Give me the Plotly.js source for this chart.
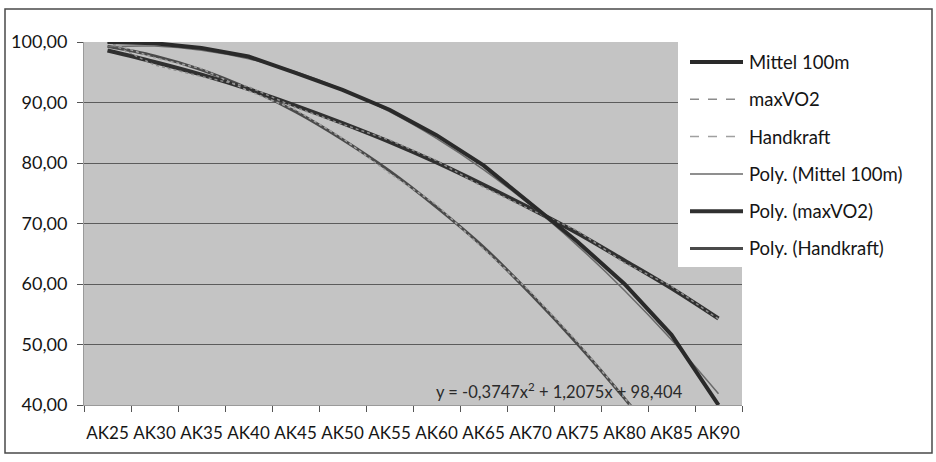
<!DOCTYPE html>
<html>
<head>
<meta charset="utf-8">
<script src="https://cdn.plot.ly/plotly-3.0.1.min.js"></script>
<style>
  html, body { margin: 0; padding: 0; background: #ffffff; }
  #chart { width: 936px; height: 462px; }
</style>
</head>
<body>
<div id="chart"></div>
<script>
// Age classes on the category axis
const ageClasses = ['AK25','AK30','AK35','AK40','AK45','AK50','AK55','AK60','AK65','AK70','AK75','AK80','AK85','AK90'];

// Measured performance, % of the AK25 level
const mittel100m = [100.0, 99.8, 99.0, 97.6, 94.9, 92.1, 88.8, 84.6, 79.6, 73.2, 67.0, 60.0, 51.6, 40.0];
const maxVO2     = [100.0, 96.2, 94.3, 92.6, 89.2, 86.4, 83.8, 80.4, 76.0, 72.3, 68.8, 63.5, 59.6, 54.2];
const handkraft  = [100.0, 97.4, 95.6, 91.9, 88.8, 84.1, 78.3, 73.1, 65.8, 58.7, 50.4, 41.2, 31.0, 21.0];

// Polynomial trend lines (2nd order)
const polyMittel100m = [99.24, 99.32, 98.65, 97.24, 95.07, 92.16, 88.50, 84.08, 78.92, 73.01, 66.35, 58.94, 50.78, 41.86];
const polyMaxVO2     = [98.6, 96.7, 94.6, 92.2, 89.5, 86.6, 83.5, 80.1, 76.4, 72.5, 68.4, 63.9, 59.3, 54.3];
const polyHandkraft  = [99.3, 97.7, 95.4, 92.3, 88.5, 83.9, 78.7, 72.7, 66.1, 58.4, 50.1, 41.1, 31.4, 20.9];

// Legend texts and trend equation label
const legendLabels = ['Mittel 100m', 'maxVO2', 'Handkraft', 'Poly. (Mittel 100m)', 'Poly. (maxVO2)', 'Poly. (Handkraft)'];
const equationLabel = 'y = -0,3747x<sup>2</sup> + 1,2075x + 98,404';

// Plot area geometry in pixels
const W = 936, H = 462;
const PL = 84, PR = 742, PT = 42, PB = 405;
const fx = p => (p - PL) / (PR - PL);
const fy = p => (PB - p) / (PB - PT);

// Line styles: data series first, then the trend lines
const styles = [
  { color: '#2a2a2a', width: 4,   dash: 'solid', shape: 'linear' },
  { color: '#8c8c8c', width: 1.5, dash: 'dot',   shape: 'linear' },
  { color: '#a0a0a0', width: 1.5, dash: 'dot',   shape: 'linear' },
  { color: '#6a6a6a', width: 1.5, dash: 'solid', shape: 'spline' },
  { color: '#303030', width: 4,   dash: 'solid', shape: 'spline' },
  { color: '#4a4a4a', width: 3,   dash: 'solid', shape: 'spline' }
];
const seriesValues = [mittel100m, maxVO2, handkraft, polyMittel100m, polyMaxVO2, polyHandkraft];

// Draw trend lines under the measured data
const drawOrder = [5, 4, 3, 2, 1, 0];
const traces = drawOrder.map(i => ({
  type: 'scatter',
  mode: 'lines',
  name: legendLabels[i],
  x: ageClasses,
  y: seriesValues[i],
  line: { color: styles[i].color, width: styles[i].width, dash: styles[i].dash, shape: styles[i].shape, smoothing: 1 },
  showlegend: false,
  hoverinfo: 'skip'
}));

const FONT = 'Lato, "Open Sans", sans-serif';

// Legend box and entries
const shapes = [];
const annotations = [];
shapes.push({
  type: 'rect', xref: 'paper', yref: 'paper', layer: 'above',
  x0: fx(678), x1: fx(930), y0: fy(267), y1: fy(41),
  fillcolor: '#ffffff', line: { width: 0 }
});
const legendY0 = 62, legendStep = 37.3;
legendLabels.forEach((lab, i) => {
  const yy = legendY0 + i * legendStep;
  shapes.push({
    type: 'line', xref: 'paper', yref: 'paper', layer: 'above',
    x0: fx(690), x1: fx(743), y0: fy(yy), y1: fy(yy),
    line: { color: styles[i].color, width: styles[i].width, dash: styles[i].dash === 'dot' ? 'dash' : 'solid' }
  });
  annotations.push({
    xref: 'paper', yref: 'paper', x: fx(747), y: fy(yy),
    xanchor: 'left', yanchor: 'middle', showarrow: false,
    text: lab, font: { family: FONT, size: 18.5, color: '#151515' }
  });
});

// Outer chart frame
shapes.push({
  type: 'rect', xref: 'paper', yref: 'paper', layer: 'above',
  x0: fx(5), x1: fx(932), y0: fy(453), y1: fy(9),
  line: { color: '#4a4a4a', width: 1.5 }
});

// Trend equation
annotations.push({
  xref: 'paper', yref: 'paper', x: fx(434), y: fy(391),
  xanchor: 'left', yanchor: 'middle', showarrow: false,
  text: equationLabel, font: { family: FONT, size: 16.5, color: '#2a2a2a' }
});

const layout = {
  width: W, height: H,
  margin: { l: PL, r: W - PR, t: PT, b: H - PB, pad: 0 },
  paper_bgcolor: '#ffffff',
  plot_bgcolor: '#c4c4c4',
  separators: ',.',
  font: { family: FONT, size: 18, color: '#151515' },
  showlegend: false,
  xaxis: {
    type: 'category',
    categoryorder: 'array', categoryarray: ageClasses,
    range: [-0.5, 13.5],
    tickson: 'boundaries',
    tickangle: 0,
    ticks: 'outside', ticklen: 6, tickcolor: '#555555', tickwidth: 1,
    showgrid: false, zeroline: false,
    showline: true, linecolor: '#9a9a9a', linewidth: 1,
    tickfont: { family: FONT, size: 17, color: '#151515' },
    ticklabelstandoff: 13,
    fixedrange: true
  },
  yaxis: {
    range: [40, 100], dtick: 10, tick0: 40,
    tickformat: '.2f',
    ticks: 'outside', ticklen: 6, tickcolor: '#555555', tickwidth: 1,
    showgrid: true, gridcolor: '#5c5c5c', gridwidth: 1,
    zeroline: false,
    showline: true, linecolor: '#9a9a9a', linewidth: 1,
    tickfont: { family: FONT, size: 18, color: '#151515' },
    ticklabelstandoff: 6,
    fixedrange: true
  },
  shapes: shapes,
  annotations: annotations
};

Plotly.newPlot('chart', traces, layout, { staticPlot: true, displayModeBar: false });
</script>
</body>
</html>
